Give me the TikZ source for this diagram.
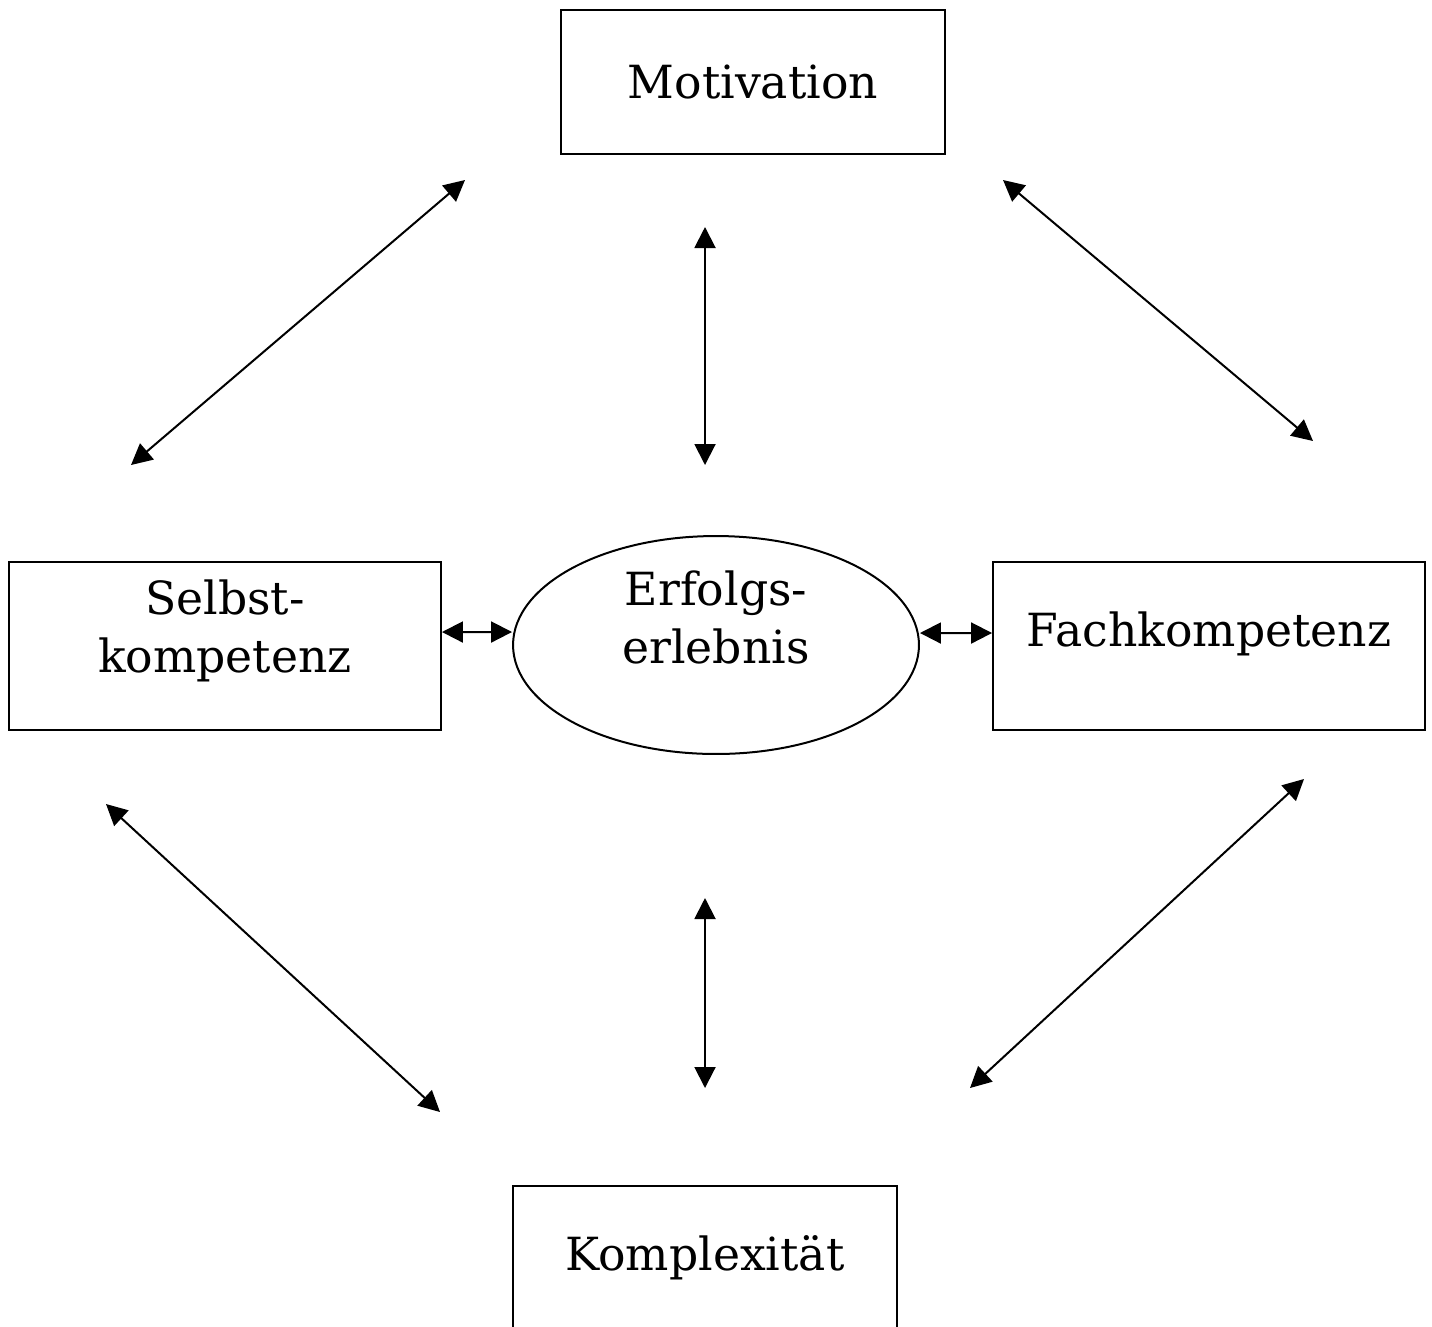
\documentclass[tikz,border=0pt]{standalone}
\usepackage{fontspec}
\setmainfont{DejaVu Serif}
\usepackage{tikz}
\usetikzlibrary{shapes, arrows.meta, positioning, calc}

\begin{document}
\begin{tikzpicture}[
  x=0.02cm, y=-0.02cm,
  box/.style={rectangle, draw, line width=0.04cm, inner sep=0pt},
  every label/.style={font=\fontsize{26}{33}\selectfont, align=center},
  blob/.style={ellipse, draw, line width=0.04cm, inner sep=0pt,
               minimum width=8.12cm, minimum height=4.36cm},
  arrow/.style={{Triangle[length=0.42cm,width=0.42cm]}-{Triangle[length=0.42cm,width=0.42cm]},
                line width=0.04cm}
]
\useasboundingbox (0,0) rectangle (1432,1326);

\node[box, minimum width=7.68cm, minimum height=2.88cm,
      label={[name=motivtxt]center:Motivation}] (motiv) at (753,82) {};
\node[box, minimum width=8.64cm, minimum height=3.36cm,
      label={[name=selbsttxt, yshift=0.3cm]center:Selbst-\\kompetenz}] (selbst) at (225,646) {};
\node[box, minimum width=8.64cm, minimum height=3.36cm,
      label={[name=fachtxt, yshift=0.24cm]center:Fachkompetenz}] (fach) at (1209,646) {};
\node[blob, label={[name=erfolgtxt, yshift=0.56cm]center:Erfolgs-\\erlebnis}] (erfolg) at (716,645) {};
\node[box, minimum width=7.68cm, minimum height=2.88cm,
      label={[name=komplextxt]center:Komplexität}] (komplex) at (705,1258) {};

\coordinate (ms1) at (465,180);
\coordinate (ms2) at (131,465);
\coordinate (me1) at (705,227);
\coordinate (me2) at (705,465);
\coordinate (mf1) at (1003,180);
\coordinate (mf2) at (1313,441);
\coordinate (sk1) at (106,804);
\coordinate (sk2) at (440,1112);
\coordinate (ke1) at (705,898);
\coordinate (ke2) at (705,1088);
\coordinate (fk1) at (1304,779);
\coordinate (fk2) at (970,1088);

\draw[arrow] (ms1) -- (ms2);
\draw[arrow] (me1) -- (me2);
\draw[arrow] (mf1) -- (mf2);
\draw[arrow] ([yshift=0.28cm]selbst.east) -- ([yshift=0.26cm]erfolg.west);
\draw[arrow] ([yshift=0.24cm]erfolg.east) -- ([yshift=0.26cm]fach.west);
\draw[arrow] (sk1) -- (sk2);
\draw[arrow] (ke1) -- (ke2);
\draw[arrow] (fk1) -- (fk2);

\end{tikzpicture}
\end{document}
